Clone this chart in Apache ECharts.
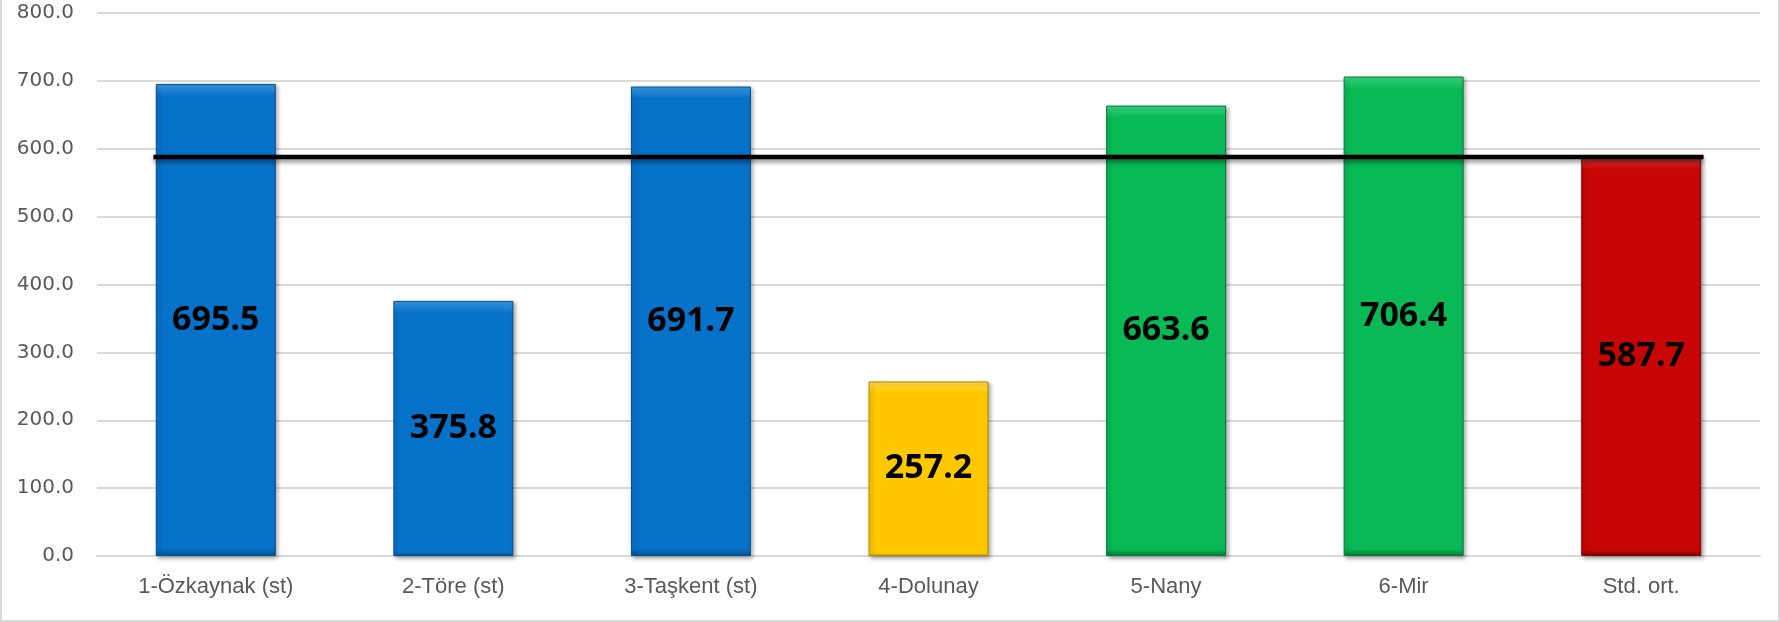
<!DOCTYPE html>
<html>
<head>
<meta charset="utf-8">
<script src="https://cdn.jsdelivr.net/npm/echarts@6/dist/echarts.min.js"></script>
<style>
  html, body { margin: 0; padding: 0; background: #fff; }
  #chart {
    width: 1780px; height: 622px; box-sizing: border-box;
    border-left: 2px solid #d9d9d9; border-right: 2px solid #d9d9d9; border-bottom: 2px solid #d9d9d9;
  }
</style>
</head>
<body>
<div id="chart"></div>
<script>
// kategoriler ve değerler
const categories = ['1-Özkaynak (st)', '2-Töre (st)', '3-Taşkent (st)', '4-Dolunay', '5-Nany', '6-Mir', 'Std. ort.'];
const values = [695.5, 375.8, 691.7, 257.2, 663.6, 706.4, 587.7];
// ortalama çizgisi (Std. ort.)
const avgValue = 587.7;
// y ekseni
const yMin = 0;
const yMax = 800;
const yStep = 100;

// bar renkleri (taban, açık, koyu)
const palette = {
  blue: ['#0772C9', '#3A9BE6', '#05508F'],
  yellow: ['#FFC800', '#FFE04D', '#B38C00'],
  green: ['#08B955', '#3ED884', '#057A38'],
  red: ['#C80606', '#E23B3B', '#7E0303']
};
const barPalette = ['blue', 'blue', 'blue', 'yellow', 'green', 'green', 'red'];

const barRatio = 0.505; // bar genişliği / kategori genişliği

const chart = echarts.init(document.getElementById('chart'));

const barData = values.map((v, i) => {
  const c = palette[barPalette[i]];
  return {
    value: v,
    itemStyle: {
      color: new echarts.graphic.LinearGradient(0, 0, 0, 1, [
        { offset: 0, color: c[1] },
        { offset: Math.min(0.06, 12 / (v * 0.68)), color: c[0] },
        { offset: 0.985, color: c[0] },
        { offset: 1, color: c[2] }
      ]),
      borderColor: c[2],
      borderWidth: 1
    }
  };
});

const n = categories.length;
const half = barRatio / 2 + 0.01;

const option = {
  backgroundColor: '#fff',
  animation: false,
  grid: { left: 95, right: 18, top: 13, bottom: 64, containLabel: false, outerBoundsMode: 'none' },
  xAxis: [
    {
      type: 'category',
      data: categories,
      axisTick: { show: false },
      axisLine: { lineStyle: { color: '#d9d9d9', width: 2 } },
      axisLabel: {
        color: '#595959',
        fontFamily: "'Liberation Sans', sans-serif",
        fontSize: 22,
        margin: 20
      }
    },
    {
      type: 'value',
      min: -0.5,
      max: n - 0.5,
      show: false
    }
  ],
  yAxis: {
    type: 'value',
    min: yMin,
    max: yMax,
    interval: yStep,
    axisLine: { show: false },
    axisTick: { show: false },
    axisLabel: {
      color: '#595959',
      fontFamily: 'DejaVu Sans',
      fontSize: 20,
      margin: 23,
      formatter: v => v.toFixed(1)
    },
    splitLine: { lineStyle: { color: '#d9d9d9', width: 2 } }
  },
  series: [
    {
      type: 'bar',
      data: barData,
      barWidth: (barRatio * 100) + '%',
      itemStyle: {
        shadowColor: 'rgba(0,0,0,0.35)',
        shadowBlur: 4,
        shadowOffsetX: 2,
        shadowOffsetY: 2
      },
      label: {
        show: true,
        position: 'inside',
        color: '#000',
        fontFamily: 'Noto Sans',
        fontWeight: 'bold',
        fontSize: 34,
        formatter: p => p.value.toFixed(1)
      },
      z: 2
    },
    {
      type: 'line',
      xAxisIndex: 1,
      data: [[-half, avgValue], [n - 1 + half, avgValue]],
      symbol: 'none',
      lineStyle: {
        color: '#000',
        width: 4.5,
        shadowColor: 'rgba(0,0,0,0.45)',
        shadowBlur: 4,
        shadowOffsetY: 3
      },
      z: 5
    }
  ]
};

chart.setOption(option);
</script>
</body>
</html>
